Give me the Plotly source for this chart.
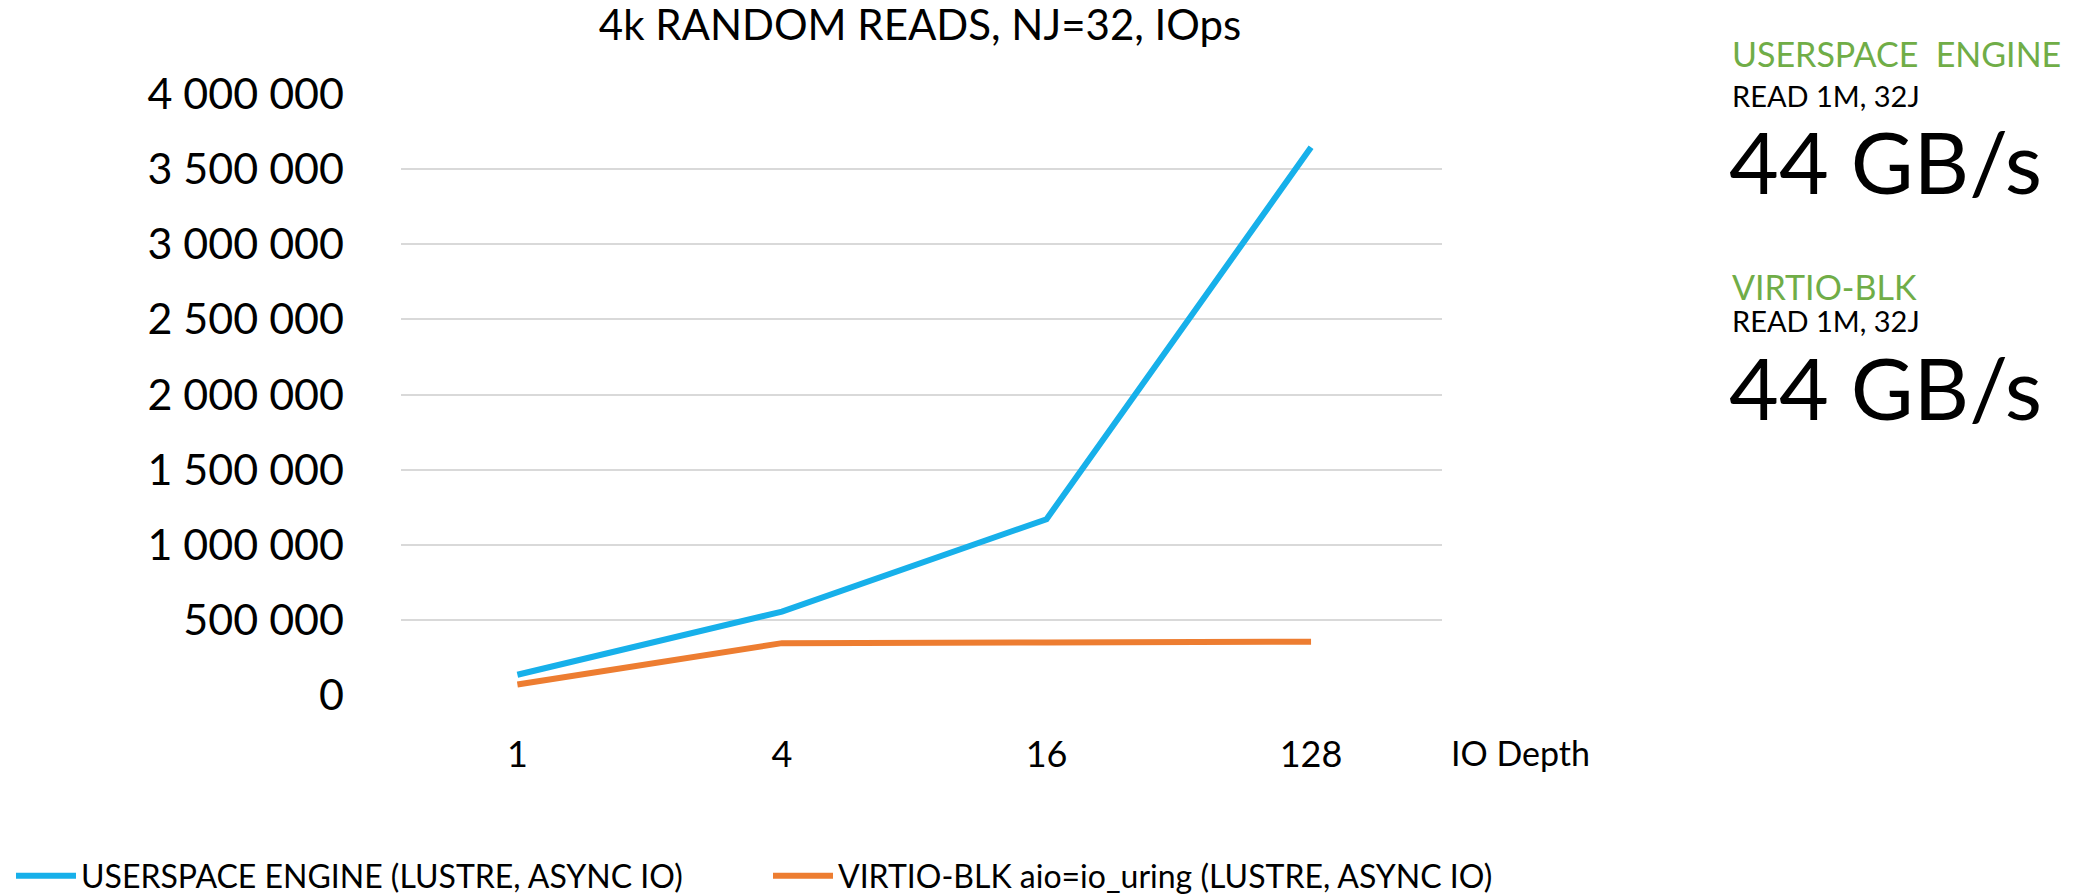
import plotly.graph_objects as go

categories = ["1", "4", "16", "128"]
userspace_iops = [135000, 555000, 1170000, 3645000]
virtio_iops = [70000, 345000, 350000, 355000]
series_names = ["USERSPACE ENGINE (LUSTRE, ASYNC IO)", "VIRTIO-BLK aio=io_uring (LUSTRE, ASYNC IO)"]
y_ticks = [0, 500000, 1000000, 1500000, 2000000, 2500000, 3000000, 3500000, 4000000]
title_text = "4k RANDOM READS, NJ=32, IOps"
x_label = "IO Depth"
side_blocks = [("USERSPACE  ENGINE", "READ 1M, 32J", "44 GB/s"),
               ("VIRTIO-BLK", "READ 1M, 32J", "44 GB/s")]

W, H = 2085, 894
L, R, T, B = 401, 1442, 93.5, 695
FONT = "Lato"
BLUE = "#17B0EA"
ORANGE = "#ED7D31"
GREEN = "#70AD47"


def px(x):
    return (x - L) / (R - L)


def py(y):
    return (B - y) / (B - T)


fig = go.Figure()
fig.add_trace(go.Scatter(x=categories, y=userspace_iops, mode="lines", name=series_names[0],
                         line=dict(color=BLUE, width=6), legend="legend"))
fig.add_trace(go.Scatter(x=categories, y=virtio_iops, mode="lines", name=series_names[1],
                         line=dict(color=ORANGE, width=6), legend="legend2"))

annotations = [dict(text=x_label, x=px(1449), y=py(753), xref="paper", yref="paper",
                    xanchor="left", yanchor="middle", showarrow=False,
                    font=dict(family=FONT, size=34, color="#000"))]

tops = [(30.5, 75, 107), (264, 300.5, 333)]
for (head, sub, big), (t1, t2, t3) in zip(side_blocks, tops):
    annotations.append(dict(text=head, x=px(1730), y=py(t1), xref="paper", yref="paper",
                            xanchor="left", yanchor="top", showarrow=False,
                            font=dict(family=FONT, size=34, color=GREEN)))
    annotations.append(dict(text=sub, x=px(1730), y=py(t2), xref="paper", yref="paper",
                            xanchor="left", yanchor="top", showarrow=False,
                            font=dict(family=FONT, size=29, color="#000")))
    annotations.append(dict(text=big, x=px(1727), y=py(t3), xref="paper", yref="paper",
                            xanchor="left", yanchor="top", showarrow=False,
                            font=dict(family=FONT, size=86, color="#000")))

legend_common = dict(orientation="h", yanchor="middle", xanchor="left",
                     xref="paper", yref="paper",
                     font=dict(family=FONT, size=32, color="#000"),
                     bgcolor="rgba(0,0,0,0)", itemwidth=60)

fig.update_layout(
    width=W, height=H,
    margin=dict(l=L, r=W - R, t=T, b=H - B, pad=0, autoexpand=False),
    paper_bgcolor="white", plot_bgcolor="white",
    separators=". ",
    title=dict(text=title_text, x=920 / W, xanchor="center", y=1 - 11 / H, yanchor="top",
               yref="container", font=dict(family=FONT, size=42, color="#000")),
    xaxis=dict(type="category", categoryorder="array", categoryarray=categories,
               range=[-0.44, 3.495], showgrid=False, zeroline=False, showline=False,
               ticks="", ticklabelstandoff=35,
               tickfont=dict(family=FONT, size=36, color="#000")),
    yaxis=dict(range=[0, 4000000], tickvals=y_ticks, tickformat=",d",
               showgrid=True, gridcolor="#D9D9D9", gridwidth=2, zeroline=False,
               showline=False, ticks="", ticklabelstandoff=56,
               tickfont=dict(family=FONT, size=43, color="#000")),
    legend=dict(x=px(11), y=py(876), **legend_common),
    legend2=dict(x=px(768), y=py(876), **legend_common),
    annotations=annotations,
    showlegend=True,
)

fig.write_html("out.html")
